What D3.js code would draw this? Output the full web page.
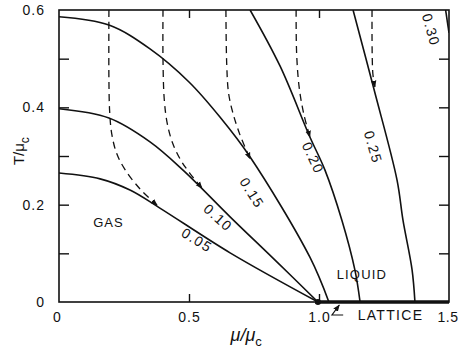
<!DOCTYPE html>
<html>
<head>
<meta charset="utf-8">
<script src="https://cdn.jsdelivr.net/npm/d3@7"></script>
<style>
  html, body { margin: 0; padding: 0; background: #fff; }
  text { font-family: "Liberation Sans", Arial, sans-serif; fill: #111; }
</style>
</head>
<body>
<div id="chart"></div>
<script>
// tick values and labels
const xTicks = [0, 0.5, 1.0, 1.5];
const xTickLabels = ["0", "0.5", "1.0", "1.5"];
const yTicks = [0, 0.1, 0.2, 0.3, 0.4, 0.5, 0.6];
const yTickLabels = ["0", "", "0.2", "", "0.4", "", "0.6"];

// solid curves, [mu/mu_c, T/mu_c]
const curveLabels = ["0.05", "0.10", "0.15", "0.20", "0.25", "0.30"];
const curve005 = [[0, 0.265], [0.158, 0.253], [0.273, 0.230], [0.388, 0.193], [0.658, 0.101], [0.996, 0]];
const curve010 = [[0, 0.397], [0.192, 0.378], [0.35, 0.329], [0.477, 0.271], [0.658, 0.175], [0.831, 0.086], [0.996, 0]];
const curve015 = [[0, 0.586], [0.192, 0.569], [0.35, 0.520], [0.5, 0.452], [0.619, 0.380], [0.735, 0.298], [0.965, 0.092], [1.038, 0]];
const curve020 = [[0.735, 0.6], [0.85, 0.485], [0.965, 0.339], [1.023, 0.271], [1.088, 0.168], [1.138, 0.066], [1.158, 0]];
const curve025 = [[1.131, 0.6], [1.212, 0.436], [1.300, 0.251], [1.323, 0.168], [1.358, 0.066], [1.369, 0]];
const curve030 = [[1.487, 0.6], [1.5, 0.553]];

// dashed curves
const dashed1 = [[0.192, 0.6], [0.192, 0.456], [0.195, 0.39], [0.203, 0.345], [0.222, 0.305], [0.254, 0.272], [0.312, 0.232], [0.377, 0.199]];
const dashed2 = [[0.4, 0.6], [0.4, 0.497], [0.405, 0.415], [0.417, 0.365], [0.438, 0.325], [0.47, 0.29], [0.504, 0.264], [0.55, 0.234]];
const dashed3 = [[0.642, 0.6], [0.645, 0.49], [0.652, 0.43], [0.668, 0.39], [0.695, 0.345], [0.735, 0.294]];
const dashed4 = [[0.912, 0.6], [0.914, 0.51], [0.924, 0.44], [0.942, 0.385], [0.965, 0.339]];
const dashed5 = [[1.204, 0.6], [1.207, 0.47], [1.215, 0.442]];

// lattice segment and critical point
const latticeRange = [0.985, 1.5];
const criticalPoint = [0.996, 0];

const solidCurves = [curve005, curve010, curve015, curve020, curve025, curve030];
const dashedCurves = [dashed1, dashed2, dashed3, dashed4, dashed5];

const W = 459, H = 354;
const x = d3.scaleLinear().domain([0, 1.5]).range([59, 449]);
const y = d3.scaleLinear().domain([0, 0.6]).range([302, 10]);

const svg = d3.select("#chart").append("svg")
  .attr("width", W).attr("height", H);

svg.append("defs").append("clipPath").attr("id", "plot")
  .append("rect")
  .attr("x", x(0)).attr("y", y(0.6))
  .attr("width", x(1.5) - x(0)).attr("height", y(0) - y(0.6));

svg.select("defs").append("marker")
  .attr("id", "arrow")
  .attr("viewBox", "0 0 10 10")
  .attr("refX", 9).attr("refY", 5)
  .attr("markerWidth", 7).attr("markerHeight", 7)
  .attr("markerUnits", "userSpaceOnUse")
  .attr("orient", "auto")
  .append("path")
  .attr("d", "M0,1 L10,5 L0,9 Z")
  .attr("fill", "#111");

const line = d3.line()
  .x(d => x(d[0]))
  .y(d => y(d[1]))
  .curve(d3.curveCatmullRom.alpha(0.5));

const g = svg.append("g").attr("clip-path", "url(#plot)");

g.selectAll("path.solid")
  .data(solidCurves)
  .enter().append("path")
  .attr("class", "solid")
  .attr("d", line)
  .attr("fill", "none")
  .attr("stroke", "#111")
  .attr("stroke-width", 1.6);

svg.selectAll("path.dashed")
  .data(dashedCurves)
  .enter().append("path")
  .attr("class", "dashed")
  .attr("d", line)
  .attr("fill", "none")
  .attr("stroke", "#111")
  .attr("stroke-width", 1.3)
  .attr("stroke-dasharray", "7,5")
  .attr("marker-end", "url(#arrow)");

// axes (ticks pointing inward)
const axisBottom = d3.axisBottom(x).tickValues(xTicks).tickSize(-8).tickPadding(10)
  .tickFormat((d, i) => xTickLabels[i]);
const axisTop = d3.axisTop(x).tickValues([0.5, 1.0]).tickSize(-8).tickFormat("");
const axisLeft = d3.axisLeft(y).tickValues(yTicks).tickSize(-10).tickPadding(14)
  .tickFormat((d, i) => yTickLabels[i]);
const axisRight = d3.axisRight(y).tickValues([0.1, 0.2, 0.3, 0.4, 0.5]).tickSize(-10).tickFormat("");

function styleAxis(sel) {
  sel.select(".domain").remove();
  sel.selectAll("line").attr("stroke", "#111").attr("stroke-width", 1.4);
  sel.selectAll("text")
    .style("font-family", "'Liberation Sans', Arial, sans-serif")
    .style("font-size", "14px")
    .style("letter-spacing", "1px")
    .attr("fill", "#111");
}

const gx = svg.append("g").attr("transform", `translate(0,${y(0)})`).call(axisBottom).call(styleAxis);
svg.append("g").attr("transform", `translate(0,${y(0.6)})`).call(axisTop).call(styleAxis);
svg.append("g").attr("transform", `translate(${x(0)},0)`).call(axisLeft).call(styleAxis);
svg.append("g").attr("transform", `translate(${x(1.5)},0)`).call(axisRight).call(styleAxis);

// only the 0.5 tick is drawn on the bottom edge
svg.selectAll("g.tick").filter(d => d === 0 || d === 1.5 || d === 0.6).select("line").remove();
gx.selectAll("g.tick").filter(d => d === 1.5).select("text")
  .attr("text-anchor", "end").attr("dx", 9).style("letter-spacing", "0.5px");
gx.selectAll("g.tick").filter(d => d === 0).select("text").attr("dx", -2);

// frame
svg.append("rect")
  .attr("x", x(0)).attr("y", y(0.6))
  .attr("width", x(1.5) - x(0)).attr("height", y(0) - y(0.6))
  .attr("fill", "none").attr("stroke", "#111").attr("stroke-width", 1.6);

// lattice segment along T = 0
svg.append("line")
  .attr("x1", x(latticeRange[0])).attr("x2", x(latticeRange[1]))
  .attr("y1", y(0)).attr("y2", y(0))
  .attr("stroke", "#111").attr("stroke-width", 3.5);

svg.append("circle")
  .attr("cx", x(criticalPoint[0])).attr("cy", y(criticalPoint[1]))
  .attr("r", 3).attr("fill", "#111");

// curve labels
const labelPos = [
  { at: [0.531, 0.127], rot: 32 },
  { at: [0.612, 0.173], rot: 42 },
  { at: [0.742, 0.224], rot: 58 },
  { at: [0.977, 0.296], rot: 65 },
  { at: [1.208, 0.318], rot: 74 },
  { at: [1.431, 0.559], rot: 74 }
];

svg.selectAll("text.clabel")
  .data(curveLabels)
  .enter().append("text")
  .attr("class", "clabel")
  .attr("transform", (d, i) => `translate(${x(labelPos[i].at[0])},${y(labelPos[i].at[1])}) rotate(${labelPos[i].rot})`)
  .attr("text-anchor", "middle")
  .attr("dy", "0.35em")
  .style("font-size", "14px")
  .style("letter-spacing", "1.5px")
  .text(d => d);

// region labels
svg.append("text").attr("x", x(0.19)).attr("y", y(0.155))
  .attr("text-anchor", "middle").style("font-size", "13px").style("letter-spacing", "1px")
  .text("GAS");
svg.append("text").attr("x", x(1.165)).attr("y", y(0.048))
  .attr("text-anchor", "middle").style("font-size", "13px").style("letter-spacing", "1.2px")
  .text("LIQUID");
svg.append("text").attr("x", x(1.275)).attr("y", y(0) + 18)
  .attr("text-anchor", "middle").style("font-size", "14px").style("letter-spacing", "1.3px")
  .text("LATTICE");

// leader arrow to the lattice line
svg.append("path")
  .attr("d", `M${x(1.093)},${y(0) + 13} L${x(1.05)},${y(0) + 13} L${x(1.078)},${y(0) + 3}`)
  .attr("fill", "none").attr("stroke", "#111").attr("stroke-width", 1.2)
  .attr("marker-end", "url(#arrow)");

// axis titles
const yTitle = svg.append("text")
  .attr("transform", `translate(24,${y(0.31)}) rotate(-90)`)
  .attr("text-anchor", "middle")
  .style("font-size", "15px");
yTitle.append("tspan").text("T/\u03bc");
yTitle.append("tspan").attr("dy", 5).style("font-size", "12px").text("c");

const xTitle = svg.append("text")
  .attr("x", x(0.72)).attr("y", 341)
  .attr("text-anchor", "middle")
  .style("font-size", "18px")
  .style("font-style", "italic");
xTitle.append("tspan").text("\u03bc/\u03bc");
xTitle.append("tspan").attr("dy", 5).style("font-size", "13px").style("font-style", "normal").text("c");
</script>
</body>
</html>
